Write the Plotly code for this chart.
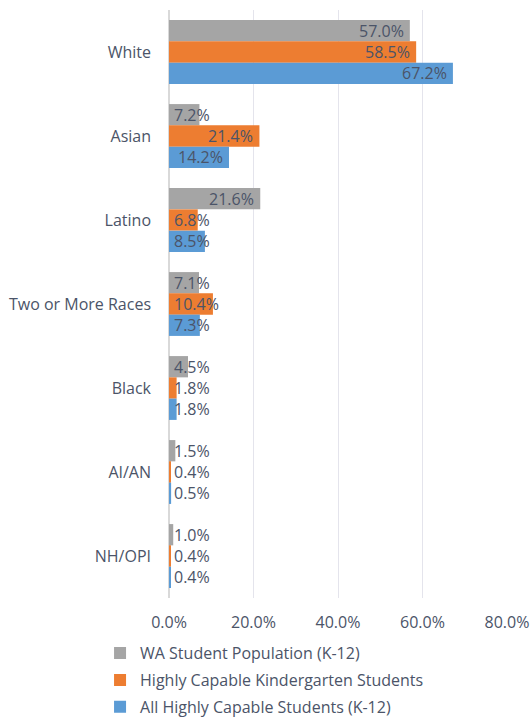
import plotly.graph_objects as go

categories = ["White", "Asian", "Latino", "Two or More Races", "Black", "AI/AN", "NH/OPI"]
series_names = ["WA Student Population (K-12)",
                "Highly Capable Kindergarten Students",
                "All Highly Capable Students (K-12)"]
wa_pop = [57.0, 7.2, 21.6, 7.1, 4.5, 1.5, 1.0]
hc_kinder = [58.5, 21.4, 6.8, 10.4, 1.8, 0.4, 0.4]
hc_all = [67.2, 14.2, 8.5, 7.3, 1.8, 0.5, 0.4]
x_ticks = [0, 20, 40, 60, 80]
x_tick_labels = ["0.0%", "20.0%", "40.0%", "60.0%", "80.0%"]

colors = ["#a5a5a5", "#ed7d31", "#5b9bd5"]
txt_color = "#4b5468"
FONT = "Open Sans"
FS = 16
series = [wa_pop, hc_kinder, hc_all]

fig = go.Figure()
for name, vals, col in zip(series_names, series, colors):
    fig.add_trace(go.Bar(
        y=categories, x=vals, name=name, orientation="h",
        marker=dict(color=col, line=dict(width=0)),
        legendgroup=name,
    ))

# data labels (Excel "inside end" style, pushed to bar start when too wide)
px_per_unit = 338 / 80.0
n = len(series)
bargap = 0.24
bw = (1 - bargap) / n
annotations = []
for si, vals in enumerate(series):
    for ci, v in enumerate(vals):
        label = f"{v:.1f}%"
        est_w = len(label) * 9.0
        ypos = ci - (1 - bargap) / 2 + bw * (si + 0.5)
        if v * px_per_unit - 13 >= est_w:
            annotations.append(dict(x=v, y=ypos, xref="x", yref="y", text=label,
                                    showarrow=False, xanchor="right", xshift=-4,
                                    font=dict(family=FONT, size=FS, color=txt_color)))
        else:
            annotations.append(dict(x=0, y=ypos, xref="x", yref="y", text=label,
                                    showarrow=False, xanchor="left", xshift=3,
                                    font=dict(family=FONT, size=FS, color=txt_color)))

fig.update_layout(
    width=531, height=717,
    margin=dict(l=169, r=24, t=10, b=119, autoexpand=False),
    barmode="group", bargap=bargap, bargroupgap=0,
    plot_bgcolor="white", paper_bgcolor="white",
    font=dict(family=FONT, size=FS, color=txt_color),
    annotations=annotations,
    showlegend=True,
    legend=dict(orientation="v", x=-0.204, xanchor="left", y=-0.065, yanchor="top",
                font=dict(family=FONT, size=FS, color=txt_color),
                traceorder="grouped", tracegroupgap=3, itemclick=False,
                bgcolor="rgba(0,0,0,0)"),
    xaxis=dict(range=[0, 80], tickvals=x_ticks, ticktext=x_tick_labels,
               showgrid=True, gridcolor="#e4e4ec", gridwidth=1,
               zeroline=True, zerolinecolor="#d9d9d9", showline=False, ticks="",
               ticklabelstandoff=13,
               tickfont=dict(family=FONT, size=FS, color=txt_color), fixedrange=True),
    yaxis=dict(type="category", categoryorder="array", categoryarray=categories,
               range=[6.5, -0.5], showgrid=False, ticks="", ticklabelstandoff=17,
               tickfont=dict(family=FONT, size=FS, color=txt_color), fixedrange=True),
)

fig.write_html("out.html", config={"displayModeBar": False},
               post_script="document.body.style.margin='0';document.body.style.padding='0';")
